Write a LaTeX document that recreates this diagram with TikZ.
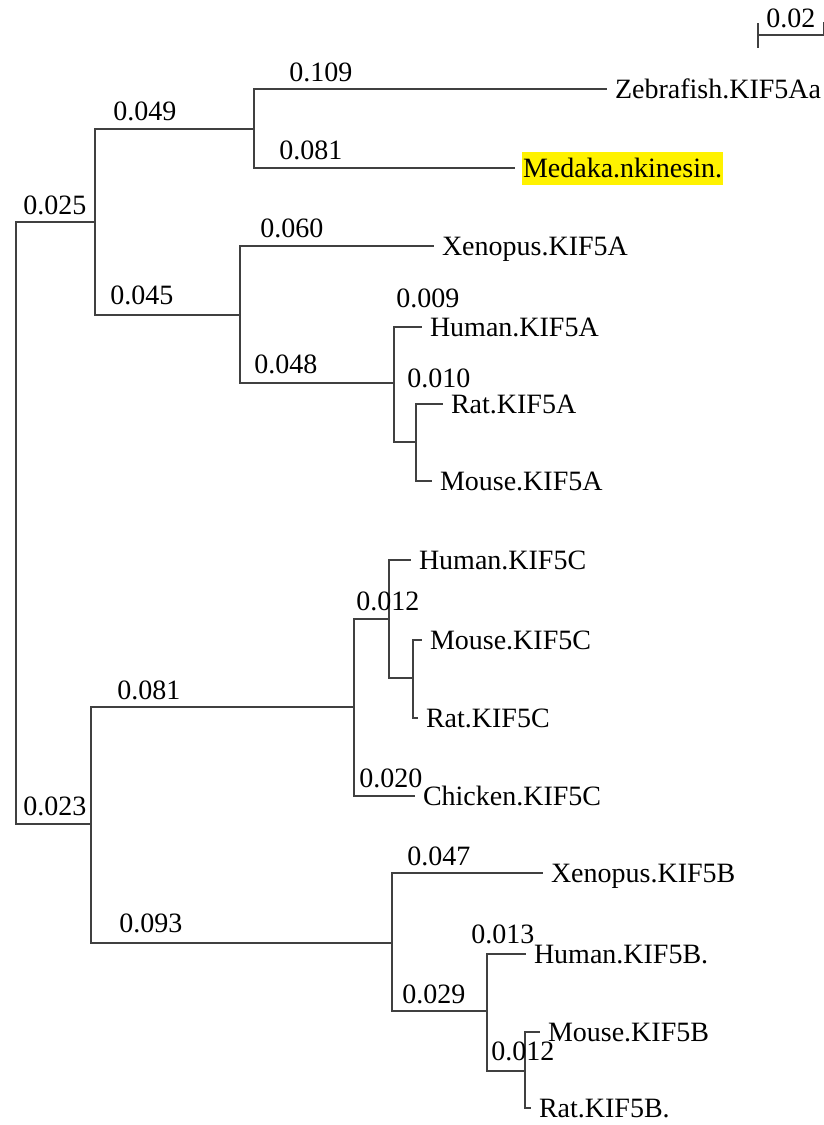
\documentclass[tikz,border=0pt]{standalone}
\usepackage{fontspec}
\setmainfont{Liberation Serif}

\begin{document}
\begin{tikzpicture}[
    x = 0.5pt, y = -0.5pt,
    font = \fontsize{14}{16}\selectfont,
    branch/.style={draw=black!75, line width=0.55pt},
    leaf/.style={anchor=west, inner xsep=0.5pt, inner ysep=0pt, outer xsep=3.5pt, outer ysep=0pt, text height=13pt, text depth=3.5pt},
    picked/.style={leaf, fill=yellow},
    blen/.style={anchor=base west, inner sep=0pt}
]
    \useasboundingbox (0, 0) rectangle (824, 1125);

    % Internal nodes
    \coordinate (root) at (16, 523);
    \coordinate (kifA) at (95, 222);
    \coordinate (fish) at (254, 129);
    \coordinate (tetA) at (240, 315);
    \coordinate (mamA) at (394, 383);
    \coordinate (rodA) at (416, 442);
    \coordinate (kifBC) at (91, 824);
    \coordinate (kifC) at (354, 707);
    \coordinate (mamC) at (389, 619);
    \coordinate (rodC) at (413, 678);
    \coordinate (kifB) at (392, 943);
    \coordinate (mamB) at (487, 1011);
    \coordinate (rodB) at (525, 1071);

    % Leaves
    \node (zebraA) at (607, 89) [leaf] {Zebrafish.KIF5Aa};
    \node (medaka) at (515, 168) [picked] {Medaka.nkinesin.};
    \node (xenA) at (434, 246) [leaf] {Xenopus.KIF5A};
    \node (humA) at (422, 327) [leaf] {Human.KIF5A};
    \node (ratA) at (443, 404) [leaf] {Rat.KIF5A};
    \node (mouA) at (432, 481) [leaf] {Mouse.KIF5A};
    \node (humC) at (411, 560) [leaf] {Human.KIF5C};
    \node (mouC) at (422, 640) [leaf] {Mouse.KIF5C};
    \node (ratC) at (418, 718) [leaf] {Rat.KIF5C};
    \node (chiC) at (415, 796) [leaf] {Chicken.KIF5C};
    \node (xenB) at (543, 873) [leaf] {Xenopus.KIF5B};
    \node (humB) at (526, 954) [leaf] {Human.KIF5B.};
    \node (mouB) at (540, 1032) [leaf] {Mouse.KIF5B};
    \node (ratB) at (531, 1108) [leaf] {Rat.KIF5B.};

    % Branches
    \draw[branch] (root) |- (kifA);
    \draw[branch] (root) |- (kifBC);
    \draw[branch] (kifA) |- (fish);
    \draw[branch] (kifA) |- (tetA);
    \draw[branch] (fish) |- (zebraA.west);
    \draw[branch] (fish) |- (medaka.west);
    \draw[branch] (tetA) |- (xenA.west);
    \draw[branch] (tetA) |- (mamA);
    \draw[branch] (mamA) |- (humA.west);
    \draw[branch] (mamA) |- (rodA);
    \draw[branch] (rodA) |- (ratA.west);
    \draw[branch] (rodA) |- (mouA.west);
    \draw[branch] (kifBC) |- (kifC);
    \draw[branch] (kifBC) |- (kifB);
    \draw[branch] (kifC) |- (mamC);
    \draw[branch] (kifC) |- (chiC.west);
    \draw[branch] (mamC) |- (humC.west);
    \draw[branch] (mamC) |- (rodC);
    \draw[branch] (rodC) |- (mouC.west);
    \draw[branch] (rodC) |- (ratC.west);
    \draw[branch] (kifB) |- (xenB.west);
    \draw[branch] (kifB) |- (mamB);
    \draw[branch] (mamB) |- (humB.west);
    \draw[branch] (mamB) |- (rodB);
    \draw[branch] (rodB) |- (mouB.west);
    \draw[branch] (rodB) |- (ratB.west);

    % Branch lengths
    \node (l025) at (23, 214) [blen] {0.025};
    \node (l049) at (113, 120) [blen] {0.049};
    \node (l109) at (289, 81) [blen] {0.109};
    \node (l081a) at (279, 159) [blen] {0.081};
    \node (l060) at (260, 237) [blen] {0.060};
    \node (l045) at (110, 304) [blen] {0.045};
    \node (l048) at (254, 373) [blen] {0.048};
    \node (l009) at (396, 307) [blen] {0.009};
    \node (l010) at (407, 387) [blen] {0.010};
    \node (l081b) at (117, 699) [blen] {0.081};
    \node (l023) at (23, 815) [blen] {0.023};
    \node (l012c) at (356, 610) [blen] {0.012};
    \node (l020) at (359, 787) [blen] {0.020};
    \node (l093) at (119, 932) [blen] {0.093};
    \node (l047) at (407, 865) [blen] {0.047};
    \node (l013) at (471, 943) [blen] {0.013};
    \node (l029) at (402, 1003) [blen] {0.029};
    \node (l012b) at (491, 1060) [blen] {0.012};

    % Scale bar
    \coordinate (barL) at (758, 35);
    \coordinate (barR) at (824, 35);
    \node (lbar) at (766, 27) [blen] {0.02};
    \draw[branch] (barL) -- (barR);
    \draw[branch] ([yshift=6pt]barL) -- ([yshift=-6.5pt]barL);
    \draw[branch] ([yshift=6.5pt]barR) -- (barR);
\end{tikzpicture}
\end{document}
